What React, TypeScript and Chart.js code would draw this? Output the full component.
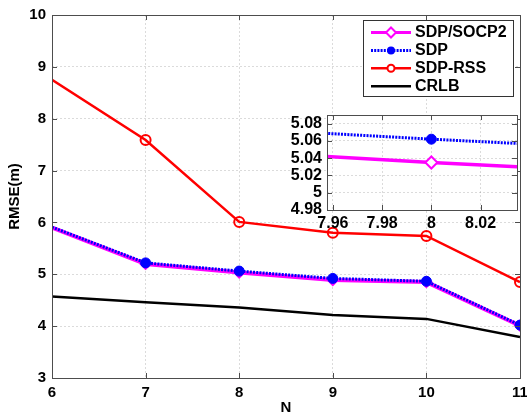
import React, { useEffect, useRef } from 'react';
import { Chart, registerables } from 'chart.js';
Chart.register(...registerables);

const N = [6, 7, 8, 9, 10, 11];
const sdpSocp2 = [5.9, 5.2, 5.035, 4.89, 4.85, 4.01];
const sdp = [5.91, 5.22, 5.062, 4.92, 4.865, 4.02];
const sdpRss = [8.75, 7.59, 6.01, 5.8, 5.74, 4.85];
const crlb = [4.57, 4.46, 4.36, 4.215, 4.14, 3.79];
const seriesLabels = ['SDP/SOCP2', 'SDP', 'SDP-RSS', 'CRLB'];
const mainXTicks = [6, 7, 8, 9, 10, 11];
const mainYTicks = [3, 4, 5, 6, 7, 8, 9, 10];
const insetXTicks = [7.96, 7.98, 8, 8.02];
const insetYTicks = [4.98, 5, 5.02, 5.04, 5.06, 5.08];

const FONT = "'Liberation Sans', Arial, sans-serif";
const pts = (vals: number[]) => N.map((n, i) => ({ x: n, y: vals[i] }));
const fmt = (v: number) => String(parseFloat(Number(v).toFixed(2)));
// markers are not shown on the first sample
const radii = (r: number) => N.map((_n, i) => (i === 0 ? 0 : r));

const makeDatasets = (inset: boolean) => {
  const ds: any[] = [
    {
      label: seriesLabels[0], data: pts(sdpSocp2), borderColor: '#ff00ff', borderWidth: inset ? 3.5 : 4,
      pointStyle: 'rectRot', pointRadius: radii(inset ? 6 : 5), pointBackgroundColor: '#ffffff',
      pointBorderColor: '#ff00ff', pointBorderWidth: 2, order: 1, mk: 'diamond', clip: 0,
    },
    {
      label: seriesLabels[1], data: pts(sdp), borderColor: '#0000ff', borderWidth: 3,
      borderDash: [2, 1.2], pointStyle: 'circle', pointRadius: radii(5), pointBackgroundColor: '#0000ff',
      pointBorderColor: '#0000ff', pointBorderWidth: 1, order: 0, mk: 'dot', clip: 0,
    },
  ];
  if (!inset) {
    ds.push(
      {
        label: seriesLabels[2], data: pts(sdpRss), borderColor: '#ff0000', borderWidth: 2.5,
        pointStyle: 'circle', pointRadius: radii(5), pointBackgroundColor: 'rgba(255,255,255,0)',
        pointBorderColor: '#ff0000', pointBorderWidth: 2, order: 2, mk: 'ring', clip: 0,
      },
      {
        label: seriesLabels[3], data: pts(crlb), borderColor: '#000000', borderWidth: 2.5,
        pointRadius: 0, order: 3, mk: 'none', clip: 0,
      }
    );
  }
  return ds;
};

const boxPlugin = {
  id: 'matlabBox',
  beforeDraw(chart: any, _a: any, opts: any) {
    if (opts.whiteBg) {
      const { ctx, chartArea: a } = chart;
      ctx.save();
      ctx.fillStyle = '#ffffff';
      ctx.fillRect(a.left, a.top, a.right - a.left, a.bottom - a.top);
      ctx.restore();
    }
  },
  afterDraw(chart: any) {
    const { ctx, chartArea: a, scales } = chart;
    ctx.save();
    ctx.strokeStyle = '#4d4d4d';
    ctx.lineWidth = 1;
    const tl = 5;
    ctx.beginPath();
    for (const t of scales.x.ticks) {
      const px = Math.round(scales.x.getPixelForValue(t.value)) + 0.5;
      ctx.moveTo(px, a.bottom); ctx.lineTo(px, a.bottom - tl);
      ctx.moveTo(px, a.top); ctx.lineTo(px, a.top + tl);
    }
    for (const t of scales.y.ticks) {
      const py = Math.round(scales.y.getPixelForValue(t.value)) + 0.5;
      ctx.moveTo(a.left, py); ctx.lineTo(a.left + tl, py);
      ctx.moveTo(a.right, py); ctx.lineTo(a.right - tl, py);
    }
    ctx.stroke();
    ctx.strokeRect(Math.round(a.left) + 0.5, Math.round(a.top) + 0.5,
      Math.round(a.right - a.left), Math.round(a.bottom - a.top));
    ctx.restore();
  },
};

const legendPlugin = {
  id: 'matlabLegend',
  afterDraw(chart: any, _a: any, opts: any) {
    if (!opts.show) return;
    const ctx = chart.ctx;
    const x0 = 363, y0 = 20, w = 150, h = 76;
    ctx.save();
    ctx.fillStyle = '#ffffff';
    ctx.fillRect(x0, y0, w, h);
    ctx.strokeStyle = '#333333';
    ctx.lineWidth = 1;
    ctx.strokeRect(x0 + 0.5, y0 + 0.5, w, h);
    const dsList = chart.data.datasets;
    dsList.forEach((ds: any, i: number) => {
      const cy = 32.5 + i * 17.9;
      ctx.save();
      ctx.strokeStyle = ds.borderColor;
      ctx.lineWidth = ds.borderWidth > 3 ? 3 : ds.borderWidth;
      ctx.setLineDash(ds.borderDash || []);
      ctx.beginPath();
      ctx.moveTo(371, cy); ctx.lineTo(411, cy);
      ctx.stroke();
      ctx.setLineDash([]);
      const mx = 391;
      if (ds.mk === 'diamond') {
        ctx.beginPath();
        ctx.moveTo(mx, cy - 5); ctx.lineTo(mx + 5, cy); ctx.lineTo(mx, cy + 5); ctx.lineTo(mx - 5, cy);
        ctx.closePath();
        ctx.fillStyle = '#ffffff'; ctx.fill();
        ctx.lineWidth = 2; ctx.strokeStyle = ds.borderColor; ctx.stroke();
      } else if (ds.mk === 'dot') {
        ctx.beginPath(); ctx.arc(mx, cy, 4, 0, Math.PI * 2);
        ctx.fillStyle = ds.borderColor; ctx.fill();
      } else if (ds.mk === 'ring') {
        ctx.beginPath(); ctx.arc(mx, cy, 3.5, 0, Math.PI * 2);
        ctx.fillStyle = '#ffffff'; ctx.fill();
        ctx.lineWidth = 2; ctx.strokeStyle = ds.borderColor; ctx.stroke();
      }
      ctx.restore();
      ctx.fillStyle = '#000000';
      ctx.font = `bold 16px ${FONT}`;
      ctx.textBaseline = 'middle';
      ctx.textAlign = 'left';
      ctx.fillText(ds.label, 415, cy + 0.5);
    });
    ctx.restore();
  },
};

const gridCfg = { color: 'rgba(0,0,0,0.14)', drawTicks: false, lineWidth: 1 };
const borderCfg = { display: false, dash: [2, 2] };

export default function App() {
  const mainRef = useRef<HTMLCanvasElement>(null);
  const insetRef = useRef<HTMLCanvasElement>(null);

  useEffect(() => {
    document.body.style.margin = '0';
    const main = new Chart(mainRef.current!, {
      type: 'line',
      data: { datasets: makeDatasets(false) },
      options: {
        animation: false, responsive: false, devicePixelRatio: 1,
        layout: { padding: { top: 15, right: 5, left: 0, bottom: 0 } },
        plugins: {
          legend: { display: false }, tooltip: { enabled: false },
          matlabLegend: { show: true }, matlabBox: {},
        } as any,
        scales: {
          x: {
            type: 'linear', min: 6, max: 11,
            afterBuildTicks: (s: any) => { s.ticks = mainXTicks.map((v) => ({ value: v })); },
            afterFit: (s: any) => { s.height = 39; s.paddingLeft = 0; s.paddingRight = 0; },
            grid: gridCfg, border: borderCfg,
            ticks: { color: '#000', padding: 6, font: { family: FONT, weight: 'bold', size: 15 }, callback: (v: any) => fmt(v), maxRotation: 0, autoSkip: false },
            title: { display: true, text: 'N', color: '#000', padding: 0, font: { family: FONT, weight: 'bold', size: 15 } },
          },
          y: {
            type: 'linear', min: 3, max: 10,
            afterBuildTicks: (s: any) => { s.ticks = mainYTicks.map((v) => ({ value: v })); },
            afterFit: (s: any) => { s.width = 52; s.paddingTop = 0; s.paddingBottom = 0; },
            grid: gridCfg, border: borderCfg,
            ticks: { color: '#000', padding: 6, font: { family: FONT, weight: 'bold', size: 15 }, callback: (v: any) => fmt(v), autoSkip: false },
            title: { display: true, text: 'RMSE(m)', color: '#000', padding: { top: 6 }, font: { family: FONT, weight: 'bold', size: 15 } },
          },
        },
      } as any,
      plugins: [boxPlugin, legendPlugin],
    });

    const inset = new Chart(insetRef.current!, {
      type: 'line',
      data: { datasets: makeDatasets(true) },
      options: {
        animation: false, responsive: false, devicePixelRatio: 1,
        layout: { padding: { top: 15, right: 10, left: 0, bottom: 0 } },
        plugins: {
          legend: { display: false }, tooltip: { enabled: false },
          matlabBox: { whiteBg: true },
        } as any,
        scales: {
          x: {
            type: 'linear', min: 7.9576, max: 8.0348,
            afterBuildTicks: (s: any) => { s.ticks = insetXTicks.map((v) => ({ value: v })); },
            afterFit: (s: any) => { s.height = 30; s.paddingLeft = 0; s.paddingRight = 0; },
            grid: gridCfg, border: borderCfg,
            ticks: { color: '#000', padding: 4, font: { family: FONT, weight: 'bold', size: 16 }, callback: (v: any) => fmt(v), maxRotation: 0, autoSkip: false },
          },
          y: {
            type: 'linear', min: 4.98, max: 5.09,
            afterBuildTicks: (s: any) => { s.ticks = insetYTicks.map((v) => ({ value: v })); },
            afterFit: (s: any) => { s.width = 57; s.paddingTop = 0; s.paddingBottom = 0; },
            grid: gridCfg, border: borderCfg,
            ticks: { color: '#000', padding: 5, font: { family: FONT, weight: 'bold', size: 16 }, callback: (v: any) => fmt(v), autoSkip: false },
          },
        },
      } as any,
      plugins: [boxPlugin],
    });

    return () => { main.destroy(); inset.destroy(); };
  }, []);

  return (
    <div style={{ position: 'relative', width: 527, height: 417, background: '#fff' }}>
      <canvas ref={mainRef} width={527} height={417} style={{ position: 'absolute', left: 0, top: 0, width: 527, height: 417 }} />
      <canvas ref={insetRef} width={257} height={140} style={{ position: 'absolute', left: 270, top: 100, width: 257, height: 140 }} />
    </div>
  );
}
